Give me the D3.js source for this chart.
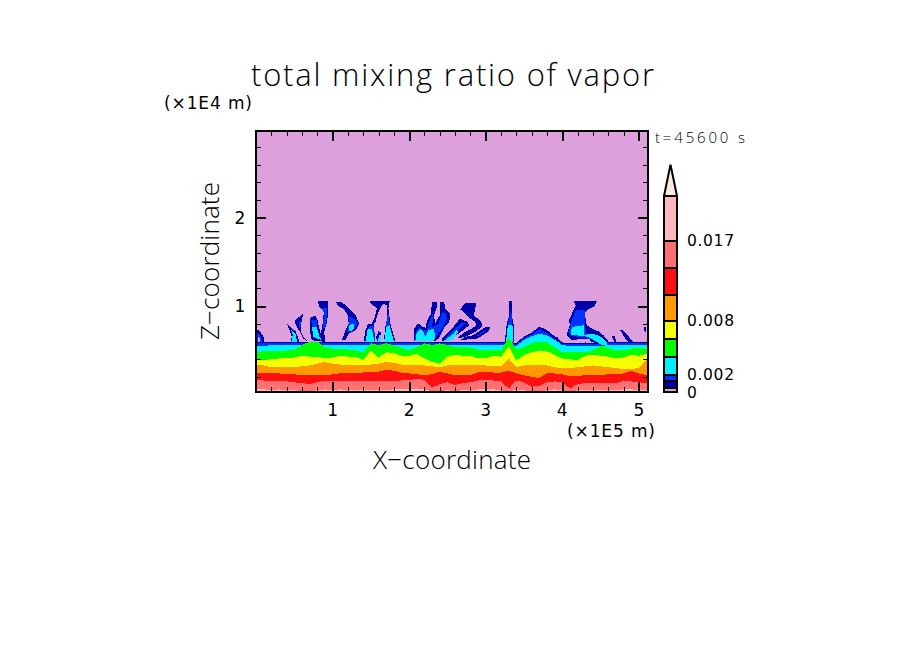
<!DOCTYPE html>
<html>
<head>
<meta charset="utf-8">
<script src="https://cdn.jsdelivr.net/npm/d3@7"></script>
<style>
	html,body{margin:0;padding:0;background:#fff;}
	svg{display:block;}
	text{font-family:"DejaVu Sans",sans-serif;fill:#000;}
	.thin{font-family:"Open Sans",sans-serif;font-weight:300;}
</style>
</head>
<body>
<svg id="chart" width="904" height="654"></svg>
<script>
	// x in 1E5 m, z in 1E4 m
	var xStations = [0,0.1,0.2,0.3,0.4,0.5,0.6,0.7,0.8,0.9,1,1.1,1.2,1.3,1.4,1.5,1.6,1.7,1.8,1.9,2,2.1,2.2,2.3,2.4,2.5,2.6,2.7,2.8,2.9,3,3.1,3.2,3.3,3.4,3.5,3.6,3.7,3.8,3.9,4,4.1,4.2,4.3,4.4,4.5,4.6,4.7,4.8,4.9,5,5.1,5.12];

	// top of each contour band along xStations
	var darkTop = [.60,.60,.60,.60,.60,.60,.60,.60,.60,.59,.60,.60,.60,.60,.60,.60,.60,.60,.60,.60,.60,.60,.60,.60,.60,.60,.60,.60,.59,.60,.60,.60,.59,.60,.58,.66,.70,.77,.73,.66,.59,.58,.58,.59,.58,.59,.60,.59,.59,.60,.59,.60,.60];
	var blueTop = [.58,.58,.58,.58,.58,.58,.58,.58,.58,.58,.58,.58,.58,.58,.58,.58,.58,.58,.58,.58,.58,.58,.58,.58,.58,.58,.58,.58,.58,.58,.58,.58,.58,.58,.57,.64,.68,.74,.70,.63,.57,.57,.57,.57,.57,.57,.58,.58,.58,.58,.58,.58,.58];
	var cyanTop = [.55,.55,.56,.56,.56,.56,.56,.56,.56,.56,.56,.56,.56,.56,.56,.56,.56,.56,.56,.56,.56,.56,.56,.56,.56,.56,.56,.56,.56,.56,.56,.56,.56,.56,.55,.62,.66,.69,.67,.62,.56,.55,.55,.55,.55,.55,.56,.56,.56,.56,.56,.56,.56];
	var greenTop = [.48,.49,.49,.49,.50,.51,.56,.60,.60,.54,.52,.52,.51,.50,.48,.58,.56,.58,.56,.53,.50,.54,.58,.56,.58,.56,.54,.54,.53,.51,.50,.50,.50,.65,.51,.54,.58,.60,.59,.54,.48,.48,.48,.48,.50,.55,.53,.50,.50,.52,.53,.52,.52];
	var yellowTop = [.39,.39,.40,.41,.41,.42,.44,.43,.43,.41,.42,.44,.43,.43,.39,.50,.42,.48,.47,.44,.44,.46,.41,.37,.35,.43,.45,.44,.44,.41,.41,.44,.43,.55,.39,.45,.48,.50,.49,.45,.41,.40,.39,.44,.45,.44,.43,.41,.42,.45,.44,.46,.46];
	var orangeTop = [.33,.33,.31,.31,.31,.31,.32,.33,.35,.37,.35,.34,.34,.34,.34,.34,.35,.37,.36,.34,.33,.33,.33,.32,.31,.33,.33,.34,.34,.33,.33,.32,.32,.41,.31,.33,.33,.33,.33,.31,.30,.30,.31,.32,.33,.32,.31,.30,.29,.29,.30,.39,.39];
	var redTop = [.24,.24,.25,.24,.23,.23,.22,.22,.22,.22,.23,.24,.24,.24,.25,.26,.26,.28,.27,.25,.24,.23,.22,.23,.26,.24,.22,.22,.22,.25,.26,.25,.25,.27,.24,.22,.20,.19,.24,.24,.23,.21,.21,.22,.22,.22,.23,.23,.24,.27,.24,.22,.22];
	var salmonTop = [.16,.16,.15,.16,.15,.14,.13,.12,.14,.16,.15,.15,.15,.15,.15,.15,.15,.15,.15,.16,.16,.18,.17,.08,.12,.14,.11,.13,.14,.16,.16,.16,.15,.07,.16,.14,.09,.10,.14,.15,.14,.07,.12,.13,.13,.13,.13,.13,.16,.15,.14,.13,.13];
	var pinkTop = [.06,.06,.05,.06,.05,.05,.04,.04,.05,.06,.05,.06,.05,.05,.06,.05,.05,.05,.06,.06,.06,.07,.06,.04,.04,.05,.04,.05,.05,.06,.06,.06,.05,.03,.06,.05,.04,.04,.05,.06,.05,.03,.05,.05,.05,.05,.05,.05,.06,.06,.05,.05,.05];

	// plumes above the moist layer, [x,z]
	var darkPlumes = [
		[[0,.74],[.05,.72],[.1,.65],[.1,.58],[0,.58]],
		[[.40,.804],[.45,.766],[.515,.717],[.545,.653],[.57,.596],[.45,.596],[.47,.653],[.44,.728]],
		[[.515,.842],[.615,.917],[.60,.842],[.59,.804],[.59,.709],[.62,.653],[.67,.604],[.62,.634],[.56,.728],[.515,.804]],
		[[.70,.868],[.775,.891],[.805,.842],[.82,.766],[.86,.653],[.905,.596],[.73,.615],[.70,.728]],
		[[.805,1.057],[.94,1.057],[.94,.936],[.93,.823],[.89,.709],[.905,.596],[.86,.596],[.85,.709],[.875,.823],[.885,.936],[.83,.992]],
		[[1.045,1.049],[1.12,1.049],[1.21,.974],[1.30,.898],[1.35,.804],[1.30,.728],[1.21,.691],[1.17,.615],[1.12,.615],[1.17,.728],[1.21,.804],[1.2,.898],[1.145,.966],[1.06,1.011]],
		[[1.48,1.057],[1.745,1.057],[1.73,.974],[1.755,.804],[1.82,.604],[1.67,.604],[1.69,.766],[1.72,.860],[1.71,1.011],[1.66,1.03],[1.60,.936],[1.56,.823],[1.535,.785],[1.56,.604],[1.405,.604],[1.43,.728],[1.46,.792],[1.515,.804],[1.545,.860],[1.58,.974],[1.515,1.019]],
		[[1.57,.653],[1.60,.717],[1.635,.702],[1.635,.604],[1.58,.604]],
		[[2.06,.747],[2.12,.804],[2.18,.766],[2.22,.755],[2.23,.83],[2.28,.906],[2.30,1.042],[2.36,1.049],[2.37,1.011],[2.325,.898],[2.34,.804],[2.40,.898],[2.40,1.042],[2.46,1.042],[2.47,.974],[2.535,.917],[2.525,.823],[2.45,.747],[2.385,.634],[2.34,.604],[2.06,.604]],
		[[2.665,.966],[2.73,1.03],[2.88,1.042],[2.86,.955],[2.84,.898],[2.94,.83],[2.96,.777],[2.88,.717],[2.73,.653],[2.62,.634],[2.73,.709],[2.88,.777],[2.86,.823],[2.79,.868],[2.73,.917]],
		[[2.43,.634],[2.56,.747],[2.665,.860],[2.76,.823],[2.79,.785],[2.73,.747],[2.62,.672],[2.56,.634],[2.51,.604],[2.43,.604]],
		[[2.84,.672],[3.0,.766],[3.06,.766],[3.035,.717],[2.95,.664],[2.88,.634],[2.665,.615],[2.73,.653]],
		[[3.305,1.057],[3.34,1.057],[3.35,.860],[3.37,.766],[3.37,.596],[3.25,.596],[3.275,.804],[3.31,.898]],
		[[4.145,1.057],[4.45,1.057],[4.425,1.004],[4.32,.955],[4.295,.917],[4.32,.785],[4.385,.747],[4.47,.717],[4.535,.672],[4.60,.615],[4.60,.559],[4.515,.54],[4.405,.596],[4.295,.615],[4.12,.615],[4.057,.679],[4.10,.785],[4.09,.842],[4.145,.955],[4.175,1.011]],
		[[4.755,.728],[4.795,.728],[4.86,.664],[4.925,.596],[4.925,.559],[4.84,.615]],
		[[4.645,.664],[4.68,.664],[4.71,.596],[4.68,.596]],
		[[3.905,.653],[3.94,.653],[3.955,.596],[3.905,.577]],
		[[5.07,.766],[5.10,.766],[5.10,.709],[5.07,.717]]
	];
	var bluePlumes = [
		[[0,.70],[.05,.68],[.08,.62],[.08,.58],[0,.58]],
		[[.56,.823],[.59,.842],[.58,.747],[.56,.766]],
		[[.72,.842],[.79,.842],[.805,.709],[.75,.709]],
		[[.86,.974],[.93,.974],[.92,.823],[.885,.728],[.875,.804],[.89,.917]],
		[[1.21,.898],[1.30,.842],[1.33,.804],[1.275,.747],[1.21,.709],[1.18,.702],[1.22,.804]],
		[[1.46,.634],[1.47,.766],[1.53,.785],[1.56,.653],[1.56,.60]],
		[[1.735,.898],[1.71,.898],[1.70,.766],[1.745,.785]],
		[[2.09,.709],[2.12,.766],[2.18,.728],[2.23,.728],[2.275,.860],[2.32,.936],[2.30,.766],[2.385,.804],[2.43,.936],[2.48,.917],[2.50,.860],[2.43,.747],[2.34,.642],[2.21,.604],[2.065,.604]],
		[[2.47,.634],[2.60,.747],[2.69,.815],[2.73,.804],[2.665,.747],[2.56,.672],[2.47,.62]],
		[[2.88,.664],[3.005,.736],[3.02,.736],[2.93,.672]],
		[[3.32,.955],[3.345,.898],[3.35,.785],[3.285,.785],[3.31,.860]],
		[[4.175,.955],[4.295,.955],[4.295,.766],[4.32,.691],[4.425,.653],[4.45,.615],[4.32,.634],[4.10,.672],[4.08,.709],[4.115,.823]]
	];
	var cyanPlumes = [
		[[.46,.596],[.48,.679],[.46,.728],[.515,.691],[.535,.596]],
		[[.73,.766],[.79,.766],[.83,.653],[.86,.615],[.75,.653]],
		[[1.22,.785],[1.285,.804],[1.27,.728],[1.21,.717]],
		[[1.43,.60],[1.46,.747],[1.515,.747],[1.545,.60]],
		[[1.59,.60],[1.61,.679],[1.63,.672],[1.63,.60]],
		[[1.675,.60],[1.70,.766],[1.745,.785],[1.80,.60]],
		[[2.08,.604],[2.10,.702],[2.145,.74],[2.19,.709],[2.21,.653],[2.25,.728],[2.32,.747],[2.34,.653],[2.32,.604]],
		[[2.45,.604],[2.58,.691],[2.62,.728],[2.645,.709],[2.56,.615]],
		[[3.265,.596],[3.29,.785],[3.35,.785],[3.36,.596]],
		[[4.13,.766],[4.29,.785],[4.29,.672],[4.385,.691],[4.49,.664],[4.58,.596],[4.58,.559],[4.515,.559],[4.45,.596],[4.34,.653],[4.12,.679],[4.115,.728]]
	];
	var plumHoles = [
		[[.02,.66],[.05,.64],[.05,.60],[.02,.60]],
		[[4.19,.626],[4.36,.626],[4.36,.608],[4.19,.608]]
	];

	var bandColors = {dark:"#0000aa",blue:"#0033ff",cyan:"#00f0ff",green:"#00ff00",yellow:"#f4ff00",orange:"#ff9900",red:"#ff1010",salmon:"#ff7070",pink:"#ffb6bc",top:"#ffe8e4",plum:"#dda0dd"};

	// colour bar
	var barLevels = [.0001,.0006,.0013,.002,.004,.006,.008,.011,.014,.017,.022];
	var barColors = ["plum","dark","blue","cyan","green","yellow","orange","red","salmon","pink"];
	var barLabels = [0,.002,.008,.017];
	var barTop = .0255;

	var xMajor = [1,2,3,4,5];
	var zMajor = [1,2];
	var xMinor = [.2,.4,.6,.8,1.2,1.4,1.6,1.8,2.2,2.4,2.6,2.8,3.2,3.4,3.6,3.8,4.2,4.4,4.6,4.8,5.0];
	var zMinor = [.2,.4,.6,.8,1.2,1.4,1.6,1.8,2.2,2.4,2.6,2.8];

	var left = 256, right = 648, top_ = 131, bottom = 392;
	var svg = d3.select("#chart");
	var scaleX = d3.scaleLinear().domain([0,5.12]).range([left,right]);
	var scaleZ = d3.scaleLinear().domain([.03,2.98]).range([bottom,top_]);
	var scaleBar = d3.scaleLinear().domain([0,.022]).range([393,196]);

	svg.append("defs").append("clipPath").attr("id","plot").append("rect")
		.attr("x",left).attr("y",top_).attr("width",right-left).attr("height",bottom-top_);

	var plot = svg.append("g").attr("clip-path","url(#plot)").attr("shape-rendering","crispEdges");
	plot.append("rect").attr("x",left).attr("y",top_).attr("width",right-left).attr("height",bottom-top_).attr("fill",bandColors.plum);

	var area = d3.area().x(function(d,i){return scaleX(xStations[i])}).y0(bottom).y1(function(d){return scaleZ(d)});
	var poly = d3.line().x(function(d){return scaleX(d[0])}).y(function(d){return scaleZ(d[1])}).curve(d3.curveLinearClosed);

	function drawPolys(list,color) {
		plot.append("g").selectAll("path").data(list).enter().append("path").attr("d",poly).attr("fill",color);
	}
	function drawBand(values,color) {
		plot.append("path").datum(values).attr("d",area).attr("fill",color);
	}

	drawPolys(darkPlumes,bandColors.dark);
	drawBand(darkTop,bandColors.dark);
	drawPolys(bluePlumes,bandColors.blue);
	drawBand(blueTop,bandColors.blue);
	drawPolys(plumHoles,bandColors.plum);
	drawPolys(cyanPlumes,bandColors.cyan);
	drawBand(cyanTop,bandColors.cyan);
	drawBand(greenTop,bandColors.green);
	drawBand(yellowTop,bandColors.yellow);
	drawBand(orangeTop,bandColors.orange);
	drawBand(redTop,bandColors.red);
	drawBand(salmonTop,bandColors.salmon);
	drawBand(pinkTop,bandColors.pink);

	// axes, all ticks inward
	function addAxis(axis,tx,ty,values,size,width) {
		var g = svg.append("g").attr("transform","translate("+tx+","+ty+")")
			.call(axis.tickValues(values).tickSizeInner(-size).tickSizeOuter(0).tickFormat(""));
		g.select(".domain").remove();
		g.selectAll("line").attr("stroke","#000").attr("stroke-width",width).attr("shape-rendering","crispEdges");
		return g;
	}
	addAxis(d3.axisBottom(scaleX),0,bottom,xMajor,10,2);
	addAxis(d3.axisBottom(scaleX),0,bottom,xMinor,5,1);
	addAxis(d3.axisTop(scaleX),0,top_,xMajor,10,2);
	addAxis(d3.axisTop(scaleX),0,top_,xMinor,5,1);
	addAxis(d3.axisLeft(scaleZ),left,0,zMajor,10,2);
	addAxis(d3.axisLeft(scaleZ),left,0,zMinor,5,1);
	addAxis(d3.axisRight(scaleZ),right,0,zMajor,10,2);
	addAxis(d3.axisRight(scaleZ),right,0,zMinor,5,1);
	svg.append("rect").attr("x",left).attr("y",top_).attr("width",right-left).attr("height",bottom-top_)
		.attr("fill","none").attr("stroke","#000").attr("stroke-width",2).attr("shape-rendering","crispEdges");

	// tick labels
	svg.append("g").selectAll("text").data(xMajor).enter().append("text")
		.attr("x",function(d){return scaleX(d)}).attr("y",416).attr("text-anchor","middle").attr("font-size",17)
		.text(function(d){return d});
	svg.append("g").selectAll("text").data(zMajor).enter().append("text")
		.attr("x",240).attr("y",function(d){return scaleZ(d)+6}).attr("text-anchor","middle").attr("font-size",17)
		.text(function(d){return d});

	function label(str,x,y,size,len,cls) {
		return svg.append("text").attr("x",x).attr("y",y).attr("font-size",size)
			.attr("textLength",len).attr("lengthAdjust","spacing").attr("class",cls||null).text(str);
	}
	label("total mixing ratio of vapor",251,86,31,403,"thin");
	label("(\u00d71E4 m)",164,109,17,88);
	label("(\u00d71E5 m)",567,437,17,88);
	label("X\u2212coordinate",373,469,26,158,"thin");
	label("t=45600 s",655,143,15,90,"thin");
	label("Z\u2212coordinate",0,0,26,158,"thin").attr("transform","translate(219,340) rotate(-90)");

	// colour bar boxes and top triangle
	var bar = svg.append("g").attr("stroke","#000").attr("stroke-width",2);
	bar.selectAll("rect").data(barColors).enter().append("rect")
		.attr("x",664).attr("width",13)
		.attr("y",function(d,i){return scaleBar(barLevels[i+1])})
		.attr("height",function(d,i){return scaleBar(barLevels[i])-scaleBar(barLevels[i+1])})
		.attr("fill",function(d){return bandColors[d]})
		.attr("shape-rendering","crispEdges");
	bar.append("path")
		.attr("d","M664,"+scaleBar(.022)+"L670.5,"+scaleBar(barTop)+"L677,"+scaleBar(.022)+"Z")
		.attr("fill",bandColors.top);
	svg.append("g").selectAll("text").data(barLabels).enter().append("text")
		.attr("x",687).attr("y",function(d){return d==0?398:scaleBar(d)+5}).attr("font-size",15.5)
		.attr("textLength",function(d){return d==0?11:47}).attr("lengthAdjust","spacing")
		.text(function(d){return d==0?"0":d3.format(".3f")(d)});
</script>
</body>
</html>
